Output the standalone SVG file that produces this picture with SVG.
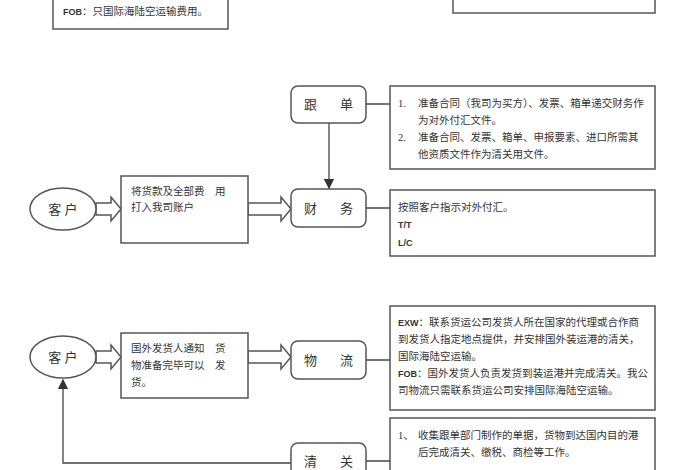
<svg xmlns="http://www.w3.org/2000/svg" width="700" height="470" viewBox="0 0 700 470">
<style>
text{font-family:"Liberation Serif","Noto Sans CJK SC",serif;font-size:10.5px;fill:#333}
.s{font-family:"Liberation Sans",sans-serif;font-size:9px;font-weight:bold}
.b{fill:#fff;stroke:#555;stroke-width:1.5}
.l{stroke:#444;stroke-width:1.3;fill:none}
.n{font-size:13px}
</style>
<defs><marker id="ah" markerWidth="8" markerHeight="8" refX="7" refY="4" orient="auto"><path d="M0,0 L8,4 L0,8 z" fill="#333"/></marker></defs>
<rect width="700" height="470" fill="#fff"/>
<g id="top-left"><rect class="b" x="53" y="-10" width="175" height="39"/><text x="63" y="15"><tspan class="s">FOB</tspan>：只国际海陆空运输费用。</text></g>
<g id="top-right"><rect class="b" x="453" y="-10" width="202" height="23"/></g>
<g id="connectors">
<path class="l" d="M366,104 H390 M366,208 H390 M366,360 H390 M366,461 H390"/>
<path class="l" d="M329,123 V188" marker-end="url(#ah)"/>
<path class="l" d="M291,463 H63 V380" marker-end="url(#ah)"/>
<path class="b" d="M96,203 H111 V197 L121,209 L111,221 V215 H96 Z"/>
<path class="b" d="M248,203 H281 V197 L291,209 L281,221 V215 H248 Z"/>
<path class="b" d="M96,351 H111 V345 L121,357 L111,369 V363 H96 Z"/>
<path class="b" d="M248,351 H281 V345 L291,357 L281,369 V363 H248 Z"/>
</g>
<g id="gendan"><rect class="b" x="291" y="86" width="75" height="37" rx="7"/><text class="n" x="304" y="109">跟</text><text class="n" x="340" y="109">单</text></g>
<g id="gendan-note"><rect class="b" x="390" y="86" width="265" height="83"/>
<text x="398" y="107">1.</text><text x="418" y="107">准备合同（我司为买方）、发票、箱单递交财务作</text>
<text x="418" y="124">为对外付汇文件。</text>
<text x="398" y="141">2.</text><text x="418" y="141">准备合同、发票、箱单、申报要素、进口所需其</text>
<text x="418" y="158">他资质文件作为清关用文件。</text></g>
<g id="caiwu"><rect class="b" x="291" y="189" width="75" height="38" rx="7"/><text class="n" x="304" y="213">财</text><text class="n" x="340" y="213">务</text></g>
<g id="caiwu-note"><rect class="b" x="390" y="190" width="265" height="66"/>
<text x="398" y="211">按照客户指示对外付汇。</text><text class="s" x="398" y="228">T/T</text><text class="s" x="398" y="246">L/C</text></g>
<g id="kehu1"><ellipse class="b" cx="63" cy="209" rx="33" ry="21"/><text class="n" x="63" y="214" text-anchor="middle">客 户</text></g>
<g id="pay"><rect class="b" x="121" y="176" width="127" height="67"/><text x="131" y="195">将货款及全部费　用</text><text x="131" y="211">打入我司账户</text></g>
<g id="kehu2"><ellipse class="b" cx="63" cy="357" rx="33" ry="21"/><text class="n" x="63" y="362" text-anchor="middle">客 户</text></g>
<g id="notify"><rect class="b" x="121" y="333" width="127" height="65"/><text x="131" y="352">国外发货人通知　货</text><text x="131" y="369">物准备完毕可以　发</text><text x="131" y="386">货。</text></g>
<g id="wuliu"><rect class="b" x="291" y="341" width="75" height="38" rx="7"/><text class="n" x="304" y="365">物</text><text class="n" x="340" y="365">流</text></g>
<g id="wuliu-note"><rect class="b" x="390" y="306" width="265" height="104"/>
<text x="398" y="326"><tspan class="s">EXW</tspan>：联系货运公司发货人所在国家的代理或合作商</text>
<text x="398" y="343">到发货人指定地点提供，并安排国外装运港的清关，</text>
<text x="398" y="360">国际海陆空运输。</text>
<text x="398" y="377"><tspan class="s">FOB</tspan>：国外发货人负责发货到装运港并完成清关。我公</text>
<text x="398" y="394">司物流只需联系货运公司安排国际海陆空运输。</text></g>
<g id="qingguan"><rect class="b" x="291" y="443" width="75" height="38" rx="7"/><text class="n" x="304" y="466">清</text><text class="n" x="340" y="466">关</text></g>
<g id="qingguan-note"><rect class="b" x="390" y="418" width="265" height="70"/>
<text x="398" y="439">1、</text><text x="418" y="439">收集跟单部门制作的单据，货物到达国内目的港</text>
<text x="418" y="456">后完成清关、缴税、商检等工作。</text></g>
</svg>
